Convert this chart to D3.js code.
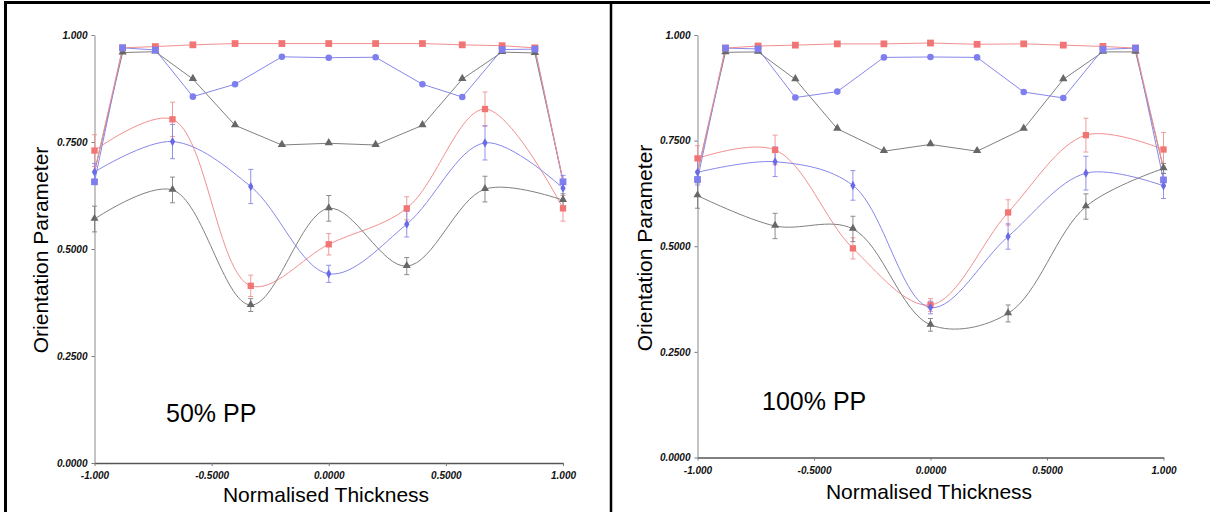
<!DOCTYPE html>
<html>
<head>
<meta charset="utf-8">
<script src="https://cdn.jsdelivr.net/npm/d3@7"></script>
<style>
  body { margin: 0; background: #fff; }
  svg { display: block; }
</style>
</head>
<body>
<div id="chart"></div>
<script>
// thickness positions
var xTop = [-1, -0.88, -0.74, -0.58, -0.4, -0.2, 0, 0.2, 0.4, 0.57, 0.74, 0.88, 1];
var xBot = [-1, -0.667, -0.333, 0, 0.333, 0.667, 1];

var yTickValues = [0, 0.25, 0.5, 0.75, 1];
var yTickLabels = ["0.0000", "0.2500", "0.5000", "0.7500", "1.000"];
var xTickValues = [-1, -0.5, 0, 0.5, 1];
var xTickLabels = ["-1.000", "-0.5000", "0.0000", "0.5000", "1.000"];

// 50% PP
var topRed50  = [0.68, 0.97, 0.973, 0.977, 0.98, 0.98, 0.98, 0.98, 0.98, 0.977, 0.975, 0.97, 0.66];
var topBlue50 = [0.657, 0.97, 0.965, 0.856, 0.885, 0.949, 0.947, 0.948, 0.885, 0.855, 0.966, 0.967, 0.657];
var topGray50 = [0.68, 0.959, 0.961, 0.897, 0.789, 0.743, 0.747, 0.743, 0.789, 0.897, 0.96, 0.958, 0.66];
var botRed50  = [0.73, 0.803, 0.414, 0.511, 0.595, 0.827, 0.595];
var errRed50  = [0.037, 0.04, 0.025, 0.025, 0.027, 0.04, 0.03];
var botBlue50 = [0.68, 0.751, 0.646, 0.442, 0.558, 0.748, 0.642];
var errBlue50 = [0.02, 0.04, 0.04, 0.02, 0.03, 0.04, 0.03];
var botGray50 = [0.57, 0.638, 0.369, 0.595, 0.46, 0.64, 0.614];
var errGray50 = [0.03, 0.03, 0.015, 0.03, 0.02, 0.03, 0.015];

// 100% PP
var topRed100  = [0.675, 0.969, 0.974, 0.976, 0.979, 0.979, 0.981, 0.978, 0.979, 0.976, 0.973, 0.969, 0.684];
var topBlue100 = [0.658, 0.969, 0.967, 0.852, 0.866, 0.947, 0.948, 0.947, 0.865, 0.851, 0.966, 0.969, 0.657];
var topGray100 = [0.675, 0.959, 0.96, 0.895, 0.778, 0.725, 0.741, 0.725, 0.778, 0.895, 0.96, 0.96, 0.684];
var botRed100  = [0.708, 0.728, 0.495, 0.361, 0.58, 0.763, 0.729];
var errRed100  = [0.03, 0.035, 0.025, 0.015, 0.03, 0.04, 0.04];
var botBlue100 = [0.675, 0.70, 0.644, 0.355, 0.523, 0.673, 0.643];
var errBlue100 = [0.03, 0.035, 0.035, 0.015, 0.03, 0.04, 0.03];
var botGray100 = [0.62, 0.548, 0.541, 0.314, 0.341, 0.594, 0.684];
var errGray100 = [0.03, 0.03, 0.03, 0.015, 0.02, 0.03, 0.012];

var RED = "#f27575", BLUE = "#7e7eee", GRAY = "#676767";

var svg = d3.select('#chart').append('svg')
    .attr('width', 1210)
    .attr('height', 512);

// outer frame
svg.append('line').attr('x1', 4).attr('x2', 1210).attr('y1', 2.5).attr('y2', 2.5)
    .attr('stroke', '#000').attr('stroke-width', 3);
svg.append('line').attr('x1', 5.5).attr('x2', 5.5).attr('y1', 1).attr('y2', 512)
    .attr('stroke', '#000').attr('stroke-width', 3);
svg.append('line').attr('x1', 611).attr('x2', 611).attr('y1', 1).attr('y2', 512)
    .attr('stroke', '#000').attr('stroke-width', 2.5);

var panels = [
    { label: "50% PP", x0: 94.5, x1: 563, y0: 463, y1: 35, titleX: 48, titleY: 250, xTitleX: 326, xTitleY: 502,
      lblX: 166, lblY: 422, lblSize: 25,
      top: [topRed50, topBlue50, topGray50],
      bot: [[botRed50, errRed50], [botBlue50, errBlue50], [botGray50, errGray50]] },
    { label: "100% PP", x0: 697.5, x1: 1163.5, y0: 457.5, y1: 35, titleX: 651.5, titleY: 248, xTitleX: 929, xTitleY: 499,
      lblX: 762, lblY: 410, lblSize: 25,
      top: [topRed100, topBlue100, topGray100],
      bot: [[botRed100, errRed100], [botBlue100, errBlue100], [botGray100, errGray100]] }
];

var colors = [RED, BLUE, GRAY];
var lineColors = ["#f29090", "#8787ea", "#808080"];

panels.forEach(function(p) {
    var x = d3.scaleLinear().domain([-1, 1]).range([p.x0, p.x1]);
    var y = d3.scaleLinear().domain([0, 1]).range([p.y0, p.y1]);
    var g = svg.append('g');

    // axes
    var yAxis = g.append('g')
        .attr('transform', 'translate(' + p.x0 + ',0)')
        .call(d3.axisLeft(y).tickValues(yTickValues).tickSize(3).tickSizeOuter(0).tickPadding(4)
            .tickFormat(function(d, i) { return yTickLabels[i]; }));
    var xAxis = g.append('g')
        .attr('transform', 'translate(0,' + p.y0 + ')')
        .call(d3.axisBottom(x).tickValues(xTickValues).tickSize(3).tickSizeOuter(0).tickPadding(6)
            .tickFormat(function(d, i) { return xTickLabels[i]; }));
    yAxis.select('.domain').attr('stroke', '#8a8a8a');
    xAxis.select('.domain').attr('stroke', '#555').attr('stroke-width', 1.3);
    g.selectAll('.tick line').attr('stroke', '#777');
    g.selectAll('.tick text')
        .attr('fill', '#111')
        .style('font-family', 'Liberation Sans, Arial, sans-serif')
        .style('font-size', '10px')
        .style('font-weight', 'bold')
        .style('font-style', 'italic');

    // titles
    g.append('text')
        .attr('transform', 'translate(' + p.titleX + ',' + p.titleY + ') rotate(-90)')
        .attr('text-anchor', 'middle')
        .style('font-family', 'Liberation Sans, Arial, sans-serif')
        .style('font-size', '21px')
        .text('Orientation Parameter');
    g.append('text')
        .attr('x', p.xTitleX).attr('y', p.xTitleY)
        .attr('text-anchor', 'middle')
        .style('font-family', 'Liberation Sans, Arial, sans-serif')
        .style('font-size', '21px')
        .text('Normalised Thickness');
    g.append('text')
        .attr('x', p.lblX).attr('y', p.lblY)
        .style('font-family', 'Liberation Sans, Arial, sans-serif')
        .style('font-size', p.lblSize + 'px')
        .text(p.label);

    // smooth series with error bars
    var curve = d3.line()
        .x(function(d, i) { return x(xBot[i]); })
        .y(function(d) { return y(d); })
        .curve(d3.curveCatmullRom.alpha(0.5));

    p.bot.forEach(function(s, k) {
        g.append('path')
            .attr('d', curve(s[0]))
            .attr('fill', 'none')
            .attr('stroke', lineColors[k])
            .attr('stroke-width', 1);
    });

    // straight series
    var straight = d3.line()
        .x(function(d, i) { return x(xTop[i]); })
        .y(function(d) { return y(d); });

    [2, 1, 0].forEach(function(k) {
        g.append('path')
            .attr('d', straight(p.top[k]))
            .attr('fill', 'none')
            .attr('stroke', lineColors[k])
            .attr('stroke-width', 1);
    });

    // error bars
    p.bot.forEach(function(s, k) {
        var eb = g.append('g').attr('stroke', lineColors[k]).attr('stroke-width', 1).attr('opacity', 0.9);
        s[0].forEach(function(v, i) {
            var cx = x(xBot[i]), lo = y(v - s[1][i]), hi = y(v + s[1][i]);
            eb.append('line').attr('x1', cx).attr('x2', cx).attr('y1', lo).attr('y2', hi);
            eb.append('line').attr('x1', cx - 2.5).attr('x2', cx + 2.5).attr('y1', lo).attr('y2', lo);
            eb.append('line').attr('x1', cx - 2.5).attr('x2', cx + 2.5).attr('y1', hi).attr('y2', hi);
        });
    });

    // markers
    var sq = d3.symbol().type(d3.symbolSquare);
    var tri = d3.symbol().type(d3.symbolTriangle);
    var circ = d3.symbol().type(d3.symbolCircle);
    var diam = d3.symbol().type(d3.symbolDiamond);

    // top group markers (interior points; blue ends drawn as squares)
    var n = xTop.length;
    p.top[2].forEach(function(v, i) {
        if (i === 0 || i === n - 1) return;
        g.append('path').attr('d', tri.size(30)()).attr('fill', GRAY)
            .attr('transform', 'translate(' + x(xTop[i]) + ',' + (y(v) - 0.5) + ')');
    });
    p.top[0].forEach(function(v, i) {
        if (i === 0 || i === n - 1) return;
        g.append('path').attr('d', sq.size(46)()).attr('fill', RED)
            .attr('transform', 'translate(' + x(xTop[i]) + ',' + y(v) + ')');
    });
    p.top[1].forEach(function(v, i) {
        var square = i <= 2 || i >= n - 3;
        g.append('path').attr('d', square ? sq.size(46)() : circ.size(34)()).attr('fill', BLUE)
            .attr('transform', 'translate(' + x(xTop[i]) + ',' + y(v) + ')');
    });

    // bottom group markers
    p.bot[2][0].forEach(function(v, i) {
        g.append('path').attr('d', tri.size(28)()).attr('fill', GRAY)
            .attr('transform', 'translate(' + x(xBot[i]) + ',' + (y(v) - 0.5) + ')');
    });
    p.bot[0][0].forEach(function(v, i) {
        g.append('path').attr('d', sq.size(40)()).attr('fill', RED)
            .attr('transform', 'translate(' + x(xBot[i]) + ',' + y(v) + ')');
    });
    p.bot[1][0].forEach(function(v, i) {
        g.append('path').attr('d', diam.size(24)()).attr('fill', '#6a6ae8')
            .attr('transform', 'translate(' + x(xBot[i]) + ',' + y(v) + ')');
    });
});
</script>
</body>
</html>
